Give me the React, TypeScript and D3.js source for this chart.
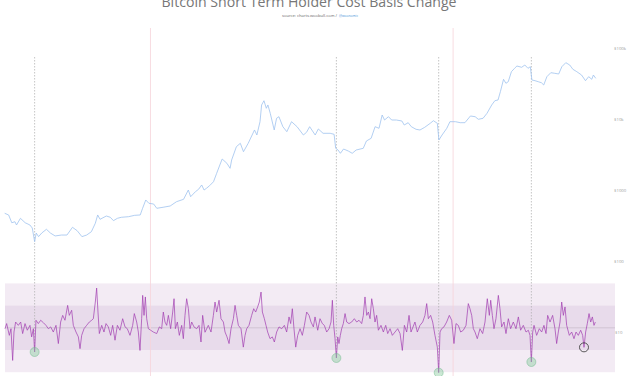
import React from "react";
import * as d3 from "d3";

const W = 627;
const H = 376;

// [decimal year, price USD]
const priceSeries: [number, number][] = [
  [2014.67, 483], [2014.72, 457], [2014.76, 355], [2014.8, 367], [2014.82, 330], [2014.87, 410],
  [2014.93, 355], [2014.99, 330], [2015.02, 299], [2015.05, 192], [2015.07, 254], [2015.1, 226],
  [2015.14, 254], [2015.2, 287], [2015.25, 254], [2015.31, 231], [2015.39, 238], [2015.46, 238],
  [2015.53, 306], [2015.59, 274], [2015.65, 226], [2015.71, 238], [2015.77, 265], [2015.82, 349],
  [2015.85, 457], [2015.88, 397], [2015.96, 442], [2016.01, 424], [2016.05, 380], [2016.1, 410],
  [2016.15, 424], [2016.24, 432], [2016.32, 452], [2016.39, 457], [2016.42, 568], [2016.46, 744],
  [2016.5, 668], [2016.56, 653], [2016.6, 568], [2016.68, 587], [2016.77, 612], [2016.85, 704],
  [2016.94, 761], [2017.0, 1029], [2017.03, 828], [2017.09, 974], [2017.13, 1053], [2017.17, 1212],
  [2017.2, 1029], [2017.23, 1088], [2017.27, 1184], [2017.32, 1349], [2017.36, 1773], [2017.4, 2322],
  [2017.43, 2822], [2017.49, 2454], [2017.53, 2085], [2017.55, 2732], [2017.61, 4210], [2017.66, 4702],
  [2017.7, 3578], [2017.76, 4702], [2017.81, 6160], [2017.84, 7249], [2017.87, 6160], [2017.91, 9494],
  [2017.93, 16350], [2017.96, 18790], [2017.99, 14680], [2018.01, 16350], [2018.04, 12470], [2018.09, 7249],
  [2018.12, 10600], [2018.15, 11170], [2018.2, 8070], [2018.25, 6858], [2018.31, 9494], [2018.38, 8070],
  [2018.46, 6160], [2018.5, 6725], [2018.54, 8070], [2018.61, 6160], [2018.65, 7488], [2018.71, 6510],
  [2018.8, 6510], [2018.85, 6302], [2018.87, 3996], [2018.9, 3781], [2018.93, 3397], [2018.97, 3906],
  [2019.03, 3660], [2019.08, 3397], [2019.13, 3781], [2019.22, 3996], [2019.26, 5068], [2019.32, 5534],
  [2019.37, 8070], [2019.42, 7660], [2019.46, 11800], [2019.49, 10030], [2019.54, 11170], [2019.58, 10030],
  [2019.64, 10030], [2019.71, 9712], [2019.74, 8527], [2019.79, 9190], [2019.83, 8070], [2019.89, 7413],
  [2019.94, 7249], [2020.0, 7913], [2020.07, 9011], [2020.11, 9806], [2020.16, 9011], [2020.18, 5235],
  [2020.22, 6160], [2020.28, 7660], [2020.32, 9494], [2020.39, 9494], [2020.45, 9190], [2020.51, 9190],
  [2020.58, 11430], [2020.64, 11170], [2020.68, 10260], [2020.74, 10600], [2020.79, 12470], [2020.85, 16350],
  [2020.89, 18790], [2020.93, 19230], [2020.96, 25180], [2021.0, 37700], [2021.03, 33100], [2021.06, 34860],
  [2021.1, 48270], [2021.14, 53900], [2021.17, 58070], [2021.23, 55680], [2021.27, 60010], [2021.31, 53900],
  [2021.34, 56770], [2021.36, 36850], [2021.4, 36020], [2021.44, 34860], [2021.48, 33750], [2021.51, 31330],
  [2021.55, 41020], [2021.6, 46720], [2021.65, 45810], [2021.7, 44780], [2021.74, 56770], [2021.79, 64690],
  [2021.84, 60010], [2021.88, 52190], [2021.93, 48270], [2021.99, 43350], [2022.04, 36020], [2022.08, 41020],
  [2022.12, 37700], [2022.14, 43350], [2022.17, 38940],
];

// [decimal year, change (std units)]
const oscSeries: [number, number][] = [
  [2014.674, -0.04], [2014.695, 0.19], [2014.729, -0.34], [2014.75, -0.04], [2014.771, -1.47], [2014.788, -0.19],
  [2014.809, 0.26], [2014.843, 0.11], [2014.873, 0.26], [2014.898, -0.26], [2014.928, 0.19], [2014.957, -0.11],
  [2014.991, 0.11], [2015.012, -0.41], [2015.034, -0.04], [2015.05, -1.09], [2015.067, 0.34], [2015.097, 0.19],
  [2015.127, 0.34], [2015.161, 0.23], [2015.194, 0.11], [2015.224, -0.04], [2015.254, 0.04], [2015.287, -0.19],
  [2015.321, 0.11], [2015.351, -0.71], [2015.38, 0.26], [2015.406, 0.56], [2015.435, 0.34], [2015.469, 1.01],
  [2015.49, 0.56], [2015.52, 0.79], [2015.541, 0.11], [2015.575, -0.19], [2015.605, -0.41], [2015.626, -0.94],
  [2015.647, -0.34], [2015.677, -0.04], [2015.71, 0.11], [2015.744, 0.26], [2015.774, 0.34], [2015.795, 0.41],
  [2015.82, 1.16], [2015.837, 1.79], [2015.854, 0.71], [2015.871, -0.26], [2015.901, 0.11], [2015.93, -0.19],
  [2015.956, 0.19], [2015.985, 0.04], [2016.015, -0.34], [2016.04, 0.11], [2016.07, -0.56], [2016.1, 0.11],
  [2016.133, -0.11], [2016.167, 0.41], [2016.197, 0.04], [2016.226, -0.04], [2016.26, -0.34], [2016.294, 0.11],
  [2016.315, 0.64], [2016.345, 0.26], [2016.366, -0.19], [2016.387, -1.02], [2016.408, 0.41], [2016.421, 1.46],
  [2016.438, 0.56], [2016.455, 1.39], [2016.472, 0.41], [2016.493, -0.04], [2016.523, -0.11], [2016.556, -0.19],
  [2016.599, -0.26], [2016.633, 0.04], [2016.662, -0.04], [2016.683, 0.71], [2016.704, 0.26], [2016.726, 0.11],
  [2016.747, 0.56], [2016.776, -0.04], [2016.802, 0.71], [2016.819, 1.31], [2016.836, -0.04], [2016.861, 0.26],
  [2016.886, -0.34], [2016.916, 0.11], [2016.937, -0.49], [2016.958, 0.56], [2016.979, 1.31], [2017.001, 0.86],
  [2017.022, -0.04], [2017.043, 0.26], [2017.072, 0.04], [2017.106, -0.04], [2017.136, 0.11], [2017.161, -0.64],
  [2017.182, 0.56], [2017.212, -0.2], [2017.254, 0.11], [2017.288, -0.19], [2017.318, 0.56], [2017.339, 1.16],
  [2017.36, 0.71], [2017.39, 1.24], [2017.415, 0.41], [2017.445, 0.26], [2017.466, -0.19], [2017.491, -0.41],
  [2017.517, -0.71], [2017.542, -0.04], [2017.572, 0.41], [2017.593, 1.01], [2017.614, 0.56], [2017.635, 0.11],
  [2017.669, -0.04], [2017.698, -0.87], [2017.72, -0.34], [2017.741, -0.04], [2017.77, 0.11], [2017.804, 0.56],
  [2017.83, 0.86], [2017.855, 0.71], [2017.88, 0.94], [2017.901, 1.16], [2017.923, 1.61], [2017.94, 0.71],
  [2017.965, 0.41], [2017.986, 0.11], [2018.007, -0.19], [2018.037, -0.49], [2018.066, -0.41], [2018.092, -0.64],
  [2018.121, -0.19], [2018.151, 0.04], [2018.185, -0.04], [2018.219, 0.11], [2018.248, -0.19], [2018.278, 0.49],
  [2018.299, 0.19], [2018.32, 0.86], [2018.341, -0.04], [2018.363, -0.87], [2018.388, -0.34], [2018.418, -0.04],
  [2018.447, -0.34], [2018.473, 0.11], [2018.502, 0.71], [2018.532, 0.56], [2018.557, 0.26], [2018.587, 0.04],
  [2018.608, 0.49], [2018.642, -0.11], [2018.671, 0.41], [2018.701, 0.19], [2018.726, 0.11], [2018.756, -0.19],
  [2018.786, -0.04], [2018.811, 0.26], [2018.828, 1.24], [2018.845, 0.11], [2018.862, -0.49], [2018.879, -1.36],
  [2018.896, -0.41], [2018.912, -0.71], [2018.929, -0.34], [2018.946, -0.04], [2018.967, 0.19], [2018.989, 0.64],
  [2019.01, 0.26], [2019.039, 0.19], [2019.073, 0.26], [2019.107, 0.41], [2019.137, 0.26], [2019.166, 0.34],
  [2019.2, 0.19], [2019.221, 0.56], [2019.242, 1.39], [2019.264, 0.56], [2019.285, 0.71], [2019.306, 0.41],
  [2019.327, 1.31], [2019.348, 0.86], [2019.369, 0.26], [2019.39, 0.56], [2019.412, -0.11], [2019.445, 0.11],
  [2019.475, -0.19], [2019.505, 0.11], [2019.53, -0.26], [2019.56, -0.04], [2019.589, -0.34], [2019.623, -0.19],
  [2019.657, -0.04], [2019.687, -0.26], [2019.716, -1.02], [2019.742, 0.11], [2019.771, -0.19], [2019.801, 0.56],
  [2019.826, -0.19], [2019.876, 0.26], [2019.906, -0.19], [2019.94, 0.11], [2019.974, 0.26], [2020.003, 0.56],
  [2020.025, 1.09], [2020.046, 0.41], [2020.075, 0.56], [2020.101, 0.26], [2020.13, -0.34], [2020.16, -0.87],
  [2020.177, -2.02], [2020.194, -0.19], [2020.215, -0.04], [2020.244, 0.04], [2020.278, 0.26], [2020.312, 0.56],
  [2020.342, 0.34], [2020.371, -0.71], [2020.397, 0.19], [2020.426, 0.11], [2020.456, -0.19], [2020.49, -0.11],
  [2020.524, 0.11], [2020.553, 1.09], [2020.574, 0.86], [2020.596, 0.56], [2020.617, -0.04], [2020.638, -0.19],
  [2020.667, -0.49], [2020.701, -0.04], [2020.735, -0.26], [2020.765, 0.26], [2020.794, 1.31], [2020.82, 0.56],
  [2020.837, 1.24], [2020.858, 0.56], [2020.879, -0.04], [2020.904, 0.41], [2020.934, 1.46], [2020.955, 0.86],
  [2020.976, 0.04], [2021.006, 0.26], [2021.031, -0.26], [2021.061, 0.41], [2021.09, -0.04], [2021.124, 0.26],
  [2021.158, -0.04], [2021.188, 0.49], [2021.217, -0.11], [2021.251, 0.11], [2021.285, -0.19], [2021.315, -0.11],
  [2021.336, -0.34], [2021.353, -1.54], [2021.37, -0.19], [2021.387, 0.11], [2021.42, -0.34], [2021.454, -0.04],
  [2021.484, -0.19], [2021.513, 0.11], [2021.539, -0.26], [2021.56, 0.56], [2021.59, 0.26], [2021.623, 0.56],
  [2021.653, -0.04], [2021.674, -0.71], [2021.695, -0.19], [2021.717, 0.26], [2021.738, 1.16], [2021.759, 0.56],
  [2021.78, 0.94], [2021.801, 0.11], [2021.835, -0.34], [2021.865, -0.19], [2021.894, -0.49], [2021.92, -0.19],
  [2021.949, -0.34], [2021.979, -0.11], [2022.004, -0.34], [2022.021, -0.88], [2022.042, -0.19], [2022.063, 0.19],
  [2022.085, 0.64], [2022.106, 0.26], [2022.127, 0.49], [2022.148, 0.11], [2022.165, 0.26],
];

const halvingYears = [2016.52, 2020.36];
const bottomSignals: [number, number][] = [
  [2015.05, -1.09],
  [2018.879, -1.36],
  [2020.177, -2.02],
  [2021.353, -1.54],
];
const currentSignal: [number, number] = [2022.021, -0.88];
const priceTicks = [100, 1000, 10000, 100000];
const priceTickLabels = ["$100", "$1000", "$10k", "$100k"];
const oscTickLabel = "$10";
const bandLevels = [2, 1];
const titleText = "Bitcoin Short Term Holder Cost Basis Change";
const sourceText = "source: charts.woobull.com /";
const handleText = "@woonomic";

export default function App() {
  const left = 5;
  const right = 615;
  const x = d3.scaleLinear().domain([2014.674, 2022.186]).range([5, 597]);
  const yP = d3.scaleLog().domain([100, 100000]).range([261.7, 49.3]);
  const yO = d3.scaleLinear().domain([-2, 2]).range([372.2, 283.4]);

  const priceLine = d3
    .line<[number, number]>()
    .x((d) => x(d[0]))
    .y((d) => yP(d[1]))(priceSeries) as string;
  const oscLine = d3
    .line<[number, number]>()
    .x((d) => x(d[0]))
    .y((d) => yO(d[1]))(oscSeries) as string;

  const r = 4.5;
  const font = "'Open Sans', 'Noto Sans', sans-serif";

  return (
    <div style={{ position: "absolute", left: 0, top: 0, width: W, height: H, background: "#fff" }}>
      <svg width={W} height={H} style={{ display: "block" }}>
        <rect x={0} y={0} width={W} height={H} fill="#fff" />
        {/* oscillator bands */}
        <rect x={left} y={yO(bandLevels[0])} width={right - left} height={yO(-bandLevels[0]) - yO(bandLevels[0])} fill="#f3ebf4" />
        <rect x={left} y={yO(bandLevels[1])} width={right - left} height={yO(-bandLevels[1]) - yO(bandLevels[1])} fill="#e8dbeb" />
        <line x1={left} x2={right} y1={yO(0)} y2={yO(0)} stroke="#cbbfcd" strokeWidth={0.8} />

        {/* halving lines */}
        {halvingYears.map((h, i) => (
          <line key={"h" + i} x1={x(h)} x2={x(h)} y1={28} y2={H} stroke="#f6d3d9" strokeWidth={0.8} />
        ))}

        {/* bottom signal dashed lines */}
        {bottomSignals.map((s, i) => (
          <line key={"d" + i} x1={x(s[0])} x2={x(s[0])} y1={57} y2={yO(s[1]) - r} stroke="#aaa" strokeWidth={0.7} strokeDasharray="1.5,1.5" />
        ))}

        {/* price */}
        <path d={priceLine} fill="none" stroke="#9fc3ef" strokeWidth={0.8} />

        {/* oscillator */}
        <path d={oscLine} fill="none" stroke="#a23fb1" strokeWidth={0.85} strokeOpacity={0.85} strokeLinejoin="round" />

        {bottomSignals.map((s, i) => (
          <circle key={"c" + i} cx={x(s[0])} cy={yO(s[1])} r={r} fill="rgba(140,205,160,0.45)" stroke="rgba(110,185,140,0.6)" strokeWidth={0.8} />
        ))}
        <circle cx={x(currentSignal[0])} cy={yO(currentSignal[1])} r={r} fill="none" stroke="#333" strokeWidth={0.8} />

        {/* right axis labels */}
        {priceTicks.map((t, i) => (
          <text key={"t" + i} x={614} y={yP(t)} fontSize={4.3} fill="#999" fontFamily={font} dominantBaseline="middle">
            {priceTickLabels[i]}
          </text>
        ))}
        <text x={615} y={yO(0) + 5} fontSize={4.3} fill="#999" fontFamily={font} dominantBaseline="middle">
          {oscTickLabel}
        </text>

        {/* title */}
        <text x={309} y={7} textAnchor="middle" fontSize={14.5} fill="#777" fontFamily={font} textLength={295} lengthAdjust="spacingAndGlyphs">
          {titleText}
        </text>
        <text x={282} y={17} fontSize={4.2} fill="#666" fontFamily={font} textLength={55} lengthAdjust="spacingAndGlyphs">
          {sourceText}
        </text>
        <text x={339} y={17} fontSize={4.2} fill="#4a8fd8" fontFamily={font} textLength={19} lengthAdjust="spacingAndGlyphs">
          {handleText}
        </text>
      </svg>
    </div>
  );
}
